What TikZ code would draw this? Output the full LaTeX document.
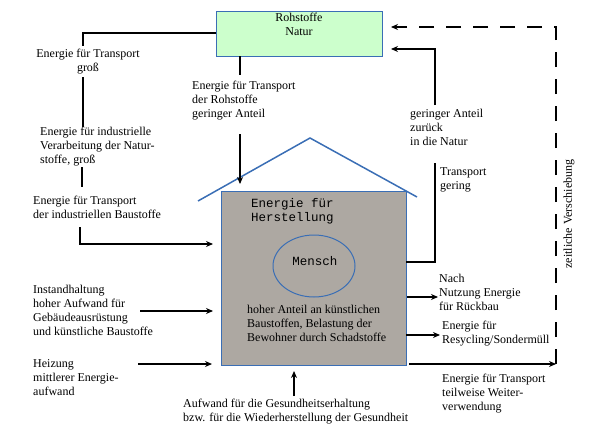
\documentclass[tikz,border=0pt]{standalone}
\usepackage{fontspec}
\setmainfont{Liberation Serif}
\newfontfamily\monofnt{Liberation Mono}
\usetikzlibrary{arrows.meta,shapes.geometric,calc}
\definecolor{boxgreen}{HTML}{CCFFCC}
\definecolor{edgeblue}{HTML}{3A6EB5}
\definecolor{housegray}{HTML}{ADA8A2}
\tikzset{
  lbl/.style={font=\fontsize{12}{14}\selectfont, align=left, inner sep=0pt, anchor=north west},
  lblc/.style={font=\fontsize{12}{14}\selectfont, align=center, inner sep=0pt, anchor=north},
  mono/.style={font=\monofnt\fontsize{12.5}{14.5}\selectfont, align=left, inner sep=0pt},
  conn/.style={line width=2pt},
  arr/.style={line width=2pt, -{Stealth[length=7pt,width=6pt]}},
  dashline/.style={line width=2pt, dash pattern=on 15pt off 12pt},
}
\begin{document}
\begin{tikzpicture}[x=1pt,y=-1pt]
\useasboundingbox (0,0) rectangle (597,439);
% Rohstoffe box
\node[draw=edgeblue, fill=boxgreen, line width=1pt, minimum width=166pt, minimum height=45pt, inner sep=0pt] (roh) at (299,33.5) {};
\node[lblc] (rohtxt) at (299,12.5) {Rohstoffe\\Natur};
% House
\draw[edgeblue, line width=1.5pt] (198,201) -- (310,138) -- (417,197);
\node[draw=edgeblue, fill=housegray, line width=1pt, minimum width=185pt, minimum height=174pt, inner sep=0pt] (house) at (313.5,278) {};
\node[mono, anchor=north west] (herst) at (251,198) {Energie für\\Herstellung};
\node[draw=edgeblue, line width=1pt, ellipse, minimum width=82pt, minimum height=62pt, inner sep=0pt] (mensch) at (314,266) {};
\node[mono, anchor=center] (menschtxt) at (315,261) {Mensch};
\node[lbl] (hoher) at (247,305) {hoher Anteil an künstlichen\\Baustoffen, Belastung der\\Bewohner durch Schadstoffe};
% Left labels
\node[lblc] (t1) at (88,49) {Energie für Transport\\groß};
\node[lbl] (t2) at (40,127) {Energie für industrielle\\Verarbeitung der Natur-\\stoffe, groß};
\node[lbl] (t3) at (33,196) {Energie für Transport\\der industriellen Baustoffe};
\node[lbl] (t4) at (192,81) {Energie für Transport\\der Rohstoffe\\geringer Anteil};
\node[lbl] (t10) at (33,285) {Instandhaltung\\hoher Aufwand für\\Gebäudeausrüstung\\und künstliche Baustoffe};
\node[lbl] (t11) at (33,359) {Heizung\\mittlerer Energie-\\aufwand};
\node[lbl] (t12) at (183,399) {Aufwand für die Gesundheitserhaltung\\bzw. für die Wiederherstellung der Gesundheit};
% Right labels
\node[lbl] (t5) at (410,109) {geringer Anteil\\zurück\\in die Natur};
\node[lbl] (t6) at (440,167) {Transport\\gering};
\node[lbl] (t7) at (439,274) {Nach\\Nutzung Energie\\für Rückbau};
\node[lbl] (t8) at (442,321) {Energie für\\Resycling/Sondermüll};
\node[lbl] (t9) at (442,374) {Energie für Transport\\teilweise Weiter-\\verwendung};
\node[font=\fontsize{12}{14}\selectfont, inner sep=0pt, rotate=90] (zeit) at (569,214) {zeitliche Verschiebung};
% Coordinates
\coordinate (a1) at (83,46);
\coordinate (a2) at (83,77);
\coordinate (a3) at (83,127);
\coordinate (a4) at (82,167);
\coordinate (a5) at (82,187);
\coordinate (a6) at (80,227);
\coordinate (a7) at (213,244);
\coordinate (b1) at (240,56);
\coordinate (b2) at (240,75);
\coordinate (b3) at (240,134);
\coordinate (b4) at (240,184);
\coordinate (r1) at (406,262);
\coordinate (r2) at (435,163);
\coordinate (r3) at (435,105);
\coordinate (r4) at (391,49);
\coordinate (d1) at (556,364);
\coordinate (dc) at (556,27);
\coordinate (d2) at (391,27);
\coordinate (d3) at (403,27);
\coordinate (e1) at (407,297);
\coordinate (e2) at (438,297);
\coordinate (f1) at (406,335);
\coordinate (f2) at (440,335);
\coordinate (g1) at (409,364);
\coordinate (h1) at (140,311);
\coordinate (h2) at (213,311);
\coordinate (i1) at (138,364);
\coordinate (i2) at (212,364);
\coordinate (j1) at (294,396);
\coordinate (j2) at (294,371);
\coordinate (rw) at (216,33);
% Connectors
\draw[conn] (rw) -| (a1);
\draw[conn] (a2) -- (a3);
\draw[conn] (a4) -- (a5);
\draw[arr] (a6) |- (a7);
\draw[conn] (b1) -- (b2);
\draw[arr] (b3) -- (b4);
\draw[conn] (r1) -| (r2);
\draw[arr] (r3) |- (r4);
\draw[dashline] (d1) -- (dc) -- (d3);
\draw[arr] (d3) -- (d2);
\draw[arr] (e1) -- (e2);
\draw[arr] (f1) -- (f2);
\draw[arr] (g1) -- (d1);
\draw[arr] (h1) -- (h2);
\draw[arr] (i1) -- (i2);
\draw[arr] (j1) -- (j2);
\end{tikzpicture}
\end{document}
